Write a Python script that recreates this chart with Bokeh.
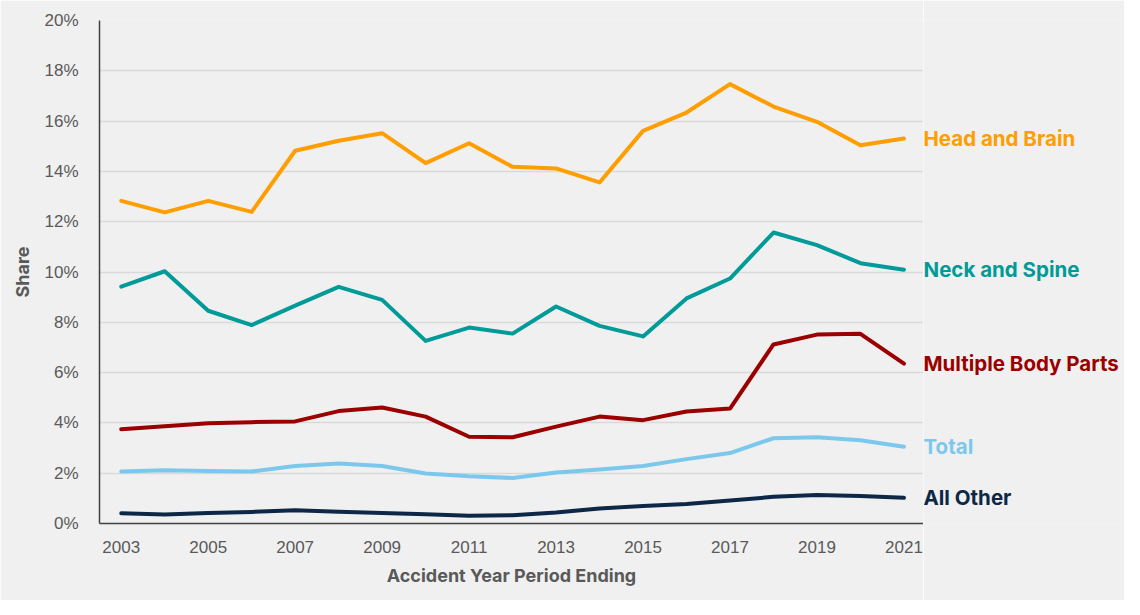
from bokeh.plotting import figure
from bokeh.layouts import row
from bokeh.models import FixedTicker, CustomJSTickFormatter, Range1d, Label
from bokeh.embed import file_html
from bokeh.resources import INLINE

years = list(range(2003, 2022))
head_brain = [12.83, 12.37, 12.83, 12.39, 14.82, 15.22, 15.52, 14.33, 15.12, 14.18,
              14.12, 13.56, 15.61, 16.34, 17.47, 16.58, 15.97, 15.04, 15.31]
neck_spine = [9.42, 10.03, 8.46, 7.89, 8.66, 9.41, 8.89, 7.26, 7.79, 7.55,
              8.63, 7.86, 7.44, 8.95, 9.74, 11.57, 11.07, 10.35, 10.09]
multiple_parts = [3.75, 3.87, 3.99, 4.03, 4.06, 4.47, 4.61, 4.25, 3.45, 3.43,
                  3.85, 4.25, 4.11, 4.45, 4.57, 7.12, 7.51, 7.54, 6.36]
total = [2.07, 2.12, 2.09, 2.07, 2.29, 2.39, 2.29, 1.99, 1.88, 1.81,
         2.03, 2.15, 2.29, 2.56, 2.80, 3.39, 3.43, 3.31, 3.05]
all_other = [0.41, 0.36, 0.42, 0.46, 0.53, 0.47, 0.42, 0.37, 0.31, 0.33,
             0.44, 0.60, 0.70, 0.78, 0.91, 1.06, 1.13, 1.09, 1.02]

series_names = ["Head and Brain", "Neck and Spine", "Multiple Body Parts", "Total", "All Other"]
series_values = [head_brain, neck_spine, multiple_parts, total, all_other]
series_colors = ["#FF9E00", "#009B98", "#9B0000", "#7CC8EC", "#0C2846"]

x_ticks = years[::2]
y_ticks = [0, 2, 4, 6, 8, 10, 12, 14, 16, 18, 20]

bg = "#f0f0f0"
H = 600
TOP, BOTTOM = 20, 77

p = figure(width=923, height=H, output_backend="svg", toolbar_location=None,
           x_range=Range1d(years[0] - 0.5, years[-1] + 0.45), y_range=Range1d(0, 20),
           min_border_left=99, min_border_right=0, min_border_top=TOP, min_border_bottom=BOTTOM)
p.background_fill_color = bg
p.border_fill_color = bg
p.outline_line_color = None

p.xgrid.grid_line_color = None
p.ygrid.grid_line_color = "#d9d9d9"
p.ygrid.grid_line_width = 1.5
p.ygrid.ticker = FixedTicker(ticks=y_ticks)

p.xaxis.ticker = FixedTicker(ticks=x_ticks)
p.yaxis.ticker = FixedTicker(ticks=y_ticks)
p.yaxis.formatter = CustomJSTickFormatter(code="return tick.toFixed(0) + '%';")

for ax in (p.xaxis, p.yaxis):
    ax.axis_line_color = "#404040"
    ax.axis_line_width = 1.5
    ax.major_tick_line_color = None
    ax.minor_tick_line_color = None
    ax.major_label_text_font = "Liberation Sans"
    ax.major_label_text_font_size = "17px"
    ax.major_label_text_color = "#595959"
    ax.axis_label_text_font = "Inter"
    ax.axis_label_text_font_style = "bold"
    ax.axis_label_text_font_size = "18px"
    ax.axis_label_text_color = "#595959"

p.xaxis.axis_label = "Accident Year Period Ending"
p.yaxis.axis_label = "Share"
p.xaxis.major_label_standoff = 11
p.xaxis.axis_label_standoff = 9
p.yaxis.major_label_standoff = 15
p.yaxis.axis_label_standoff = 8

for vals, col in zip(series_values, series_colors):
    p.line(years, vals, line_color=col, line_width=4, line_join="round", line_cap="round")

# right-hand panel holding the end-of-line labels, sharing the y scale
q = figure(width=201, height=H, output_backend="svg", toolbar_location=None,
           x_range=Range1d(0, 1), y_range=p.y_range, x_axis_type=None, y_axis_type=None,
           min_border_left=0, min_border_right=0, min_border_top=TOP, min_border_bottom=BOTTOM)
q.background_fill_color = bg
q.border_fill_color = bg
q.outline_line_color = None
q.xgrid.grid_line_color = None
q.ygrid.grid_line_color = None

for name, vals, col in zip(series_names, series_values, series_colors):
    q.add_layout(Label(x=0, y=vals[-1], text=name, x_offset=0,
                       text_color=col, text_font="Inter", text_font_style="bold",
                       text_font_size="20.5px", text_baseline="middle", text_align="left"))

layout = row(p, q, spacing=0)
open("out.html", "w").write(file_html(layout, INLINE))
